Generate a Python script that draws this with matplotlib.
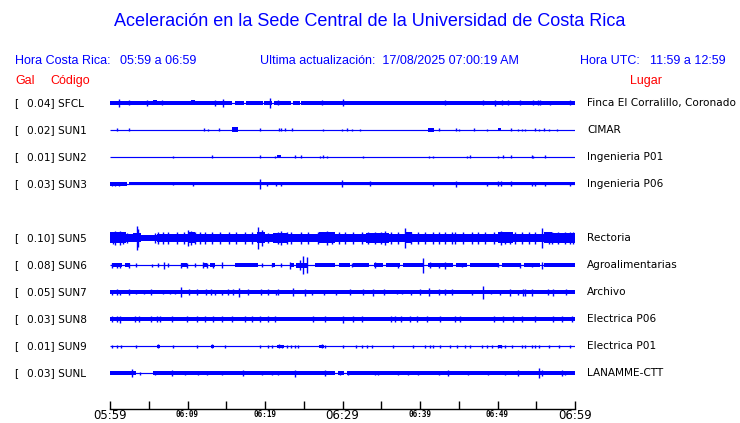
import matplotlib
matplotlib.use("Agg")
import matplotlib.pyplot as plt
from matplotlib.transforms import blended_transform_factory

BLUE = "#0000ff"
RED = "#ff0000"

codes = ["SFCL", "SUN1", "SUN2", "SUN3", "SUN5", "SUN6", "SUN7", "SUN8", "SUN9", "SUNL"]
gal = ["0.04", "0.02", "0.01", "0.03", "0.10", "0.08", "0.05", "0.03", "0.01", "0.03"]
places = ["Finca El Corralillo, Coronado", "CIMAR", "Ingenieria P01", "Ingenieria P06",
          "Rectoria", "Agroalimentarias", "Archivo", "Electrica P06", "Electrica P01",
          "LANAMME-CTT"]
# row slot of every station (slot 4 = SUN4, not shown)
rows = [0, 1, 2, 3, 5, 6, 7, 8, 9, 10]

tick_minutes = list(range(0, 61, 5))
big_labels = {0: "05:59", 30: "06:29", 60: "06:59"}
small_labels = {10: "06:09", 20: "06:19", 40: "06:39", 50: "06:49"}

# envelope of each trace: (start min, end min, half height px)
# spikes: (minute, half height px)
sfcl_spans = [(0, 15.7, 1.7), (16.1, 17.3, 1.7), (17.5, 19.7, 1.7), (19.9, 20.9, 1.7),
              (21.2, 23.4, 1.7), (23.6, 24.5, 1.7), (24.7, 60, 1.7),
              (5.5, 6.0, 2.5), (10.5, 11.0, 2.5)]
sfcl_spikes = [(1.2, 3.7), (2.5, 2.5), (4.8, 3), (6.75, 2.5), (13.5, 3), (14.6, 4),
               (20.7, 5), (21.7, 2.5), (27.3, 2.5), (30.1, 3.5), (43.2, 2.5), (48.1, 2.5),
               (49.7, 3), (50.6, 2.5), (51.3, 2.5), (52.9, 2.5), (54.6, 2.5), (55.2, 2.5),
               (55.5, 2.5), (56.8, 2), (59.3, 2.5)]

sun1_spans = [(15.8, 16.5, 2.5), (41.0, 41.8, 2.0), (50.1, 50.5, 1.5)]
sun1_spikes = [(0.86, 1.5), (2.5, 1.5), (12.1, 1.5), (12.6, 1), (14.1, 1.5), (19.4, 1.5),
               (21.8, 1.5), (22.1, 1.5), (22.6, 1.5), (23.5, 1.5), (27.5, 1), (29.9, 1),
               (30.6, 1.5), (31.2, 1), (32.3, 1), (42.4, 1.5), (44.6, 1.5), (45.0, 1),
               (47.0, 1.5), (48.7, 1), (51.7, 1.5), (52.6, 1), (53.1, 1), (53.6, 1),
               (54.8, 1.5), (55.3, 1), (56.0, 1.5), (56.7, 1), (57.7, 1)]

sun2_spans = [(21.6, 22.1, 1.5)]
sun2_spikes = [(8.1, 1), (13.2, 1.5), (19.4, 1.5), (21.3, 1), (23.9, 1.5), (24.7, 1.5),
               (27.1, 1), (27.5, 1.5), (28.0, 1), (32.7, 1), (41.1, 1), (41.7, 1),
               (46.1, 1), (46.4, 1.5), (50.1, 1), (50.7, 1.5), (51.7, 1.5), (54.4, 1.5),
               (54.6, 1), (56.1, 1.5)]

sun3_spans = [(0, 2.2, 1.8), (2.4, 60, 1.5)]
sun3_spikes = [(0.2, 2), (0.7, 2), (1.2, 2), (8.1, 1.5), (10.75, 2), (19.4, 5), (20.2, 2),
               (21.4, 2), (22.1, 2), (29.9, 3.5), (33.5, 2.5), (41.7, 2), (44.7, 3),
               (48.6, 2), (50.1, 2.5), (50.5, 2.5), (51.7, 2.5), (54.4, 2), (54.8, 2),
               (56.1, 2), (59.3, 2)]

sun5_spans = [(0, 2, 5.5), (2, 3, 3.7), (3, 4, 4.5), (4, 6, 3.2), (6, 10, 4.3), (10, 11, 5.5),
              (11, 13, 4.3), (13, 19, 4.0), (19, 20, 5.5), (20, 21, 3.7), (21, 23, 5),
              (23, 27, 4.3), (27, 29, 5.5), (29, 33, 4.3), (33, 36, 4.7), (36, 38, 4),
              (38, 39, 5.5), (39, 50, 4.3), (50, 52, 5.5), (52, 56, 4.3), (56, 57, 5.5),
              (57, 60, 4.7)]
sun5_spikes = [(0.65, 7), (1.3, 7), (3.5, 12), (3.65, 9), (6.2, 6), (10.1, 8), (10.45, 7),
               (12.3, 6), (19.1, 11), (19.6, 8), (22.1, 7), (28.0, 7), (29.5, 6), (33.3, 6),
               (35.5, 7), (38.0, 10), (42.4, 6), (44.5, 6), (50.5, 7), (51.6, 6), (53.1, 6),
               (55.7, 10), (57.0, 6), (59.8, 6),
               (0.43, 6), (1.72, 6), (2.15, 5), (5.8, 5), (6.9, 6), (7.5, 6), (8.6, 6),
               (9.5, 6), (11.0, 6), (11.6, 6), (13.1, 6), (14.2, 6), (15.3, 6), (16.3, 6),
               (17.4, 6), (18.3, 6), (20.4, 5), (21.7, 6), (22.8, 6), (23.4, 6), (24.7, 6),
               (25.6, 6), (26.9, 6), (28.6, 6), (30.3, 6), (31.4, 6), (32.5, 6), (34.2, 6),
               (35.0, 6), (36.3, 6), (37.2, 6), (38.9, 6), (39.8, 6), (40.6, 6), (41.7, 6),
               (43.2, 6), (44.1, 6), (45.6, 6), (46.7, 6), (47.5, 6), (48.4, 6), (49.5, 6),
               (51.0, 6), (52.2, 6), (54.0, 6), (54.8, 6), (56.6, 6), (57.8, 6), (58.7, 6),
               (59.3, 6)]

sun6_spans = [(0.2, 1.5, 1.7), (1.9, 2.6, 1.7), (9.2, 9.9, 1.7), (12.0, 12.5, 1.7),
              (12.9, 13.5, 1.7), (16.1, 19.1, 1.7), (20.9, 21.3, 1.7), (23.3, 23.8, 1.7),
              (24.0, 25.6, 2.5), (26.4, 29.0, 1.7), (29.6, 31.0, 1.7), (31.4, 33.4, 1.7),
              (34.0, 35.2, 1.7), (35.6, 37.4, 1.7), (37.8, 40.5, 1.7), (41.0, 44.3, 1.7),
              (44.7, 46.0, 1.7), (46.4, 50.2, 1.7), (50.6, 53.0, 1.7), (53.4, 55.5, 1.7),
              (56.0, 60, 1.7)]
sun6_spikes = [(0.2, 2.5), (0.86, 2.5), (1.3, 2.5), (2.4, 2.5), (3.4, 2), (5.4, 1.5),
               (6.2, 2), (7.0, 3.5), (7.5, 2), (9.2, 2.5), (9.9, 2.5), (11.0, 2), (12.0, 3),
               (12.5, 2.5), (13.3, 2.5), (14.4, 3), (19.6, 2), (20.9, 2), (22.1, 2),
               (23.2, 3.5), (24.5, 5), (24.9, 9), (25.4, 8), (31.2, 2), (34.2, 3),
               (37.2, 2.5), (40.4, 7.5), (41.3, 3), (42.4, 2.5), (43.2, 3.5), (45.4, 2),
               (50.1, 2), (52.9, 2.5), (54.4, 2), (55.7, 3.5)]

sun7_spans = [(0, 60, 1.7)]
sun7_spikes = [(0.2, 2.5), (0.86, 3), (1.3, 2.5), (2.45, 3), (3.4, 2), (4.4, 2), (5.3, 3),
               (6.9, 2), (7.7, 2), (8.4, 2), (9.2, 5), (10.2, 3), (11.2, 3), (12.4, 3),
               (13.0, 3), (13.5, 2.5), (14.4, 2.5), (15.2, 3), (15.9, 3), (16.6, 4.5),
               (17.8, 3), (19.5, 3), (20.4, 3), (21.4, 2.5), (21.7, 3), (23.6, 4),
               (25.2, 3.5), (26.0, 2.5), (27.6, 2.5), (29.2, 2.5), (31.0, 3), (32.6, 3),
               (33.9, 3.5), (35.4, 3), (37.0, 2), (37.7, 2), (38.9, 2.5), (40.0, 3),
               (41.1, 4), (42.4, 3), (43.2, 3), (44.1, 3), (46.7, 2.5), (48.1, 6.5),
               (49.2, 2), (50.3, 2.5), (51.6, 3.5), (52.7, 2.5), (53.3, 3.5), (53.6, 3.5),
               (54.4, 3.5), (56.5, 3), (57.2, 3.5), (58.9, 3)]

sun8_spans = [(0, 60, 1.8), (21.0, 25.0, 2.3), (31.2, 33.3, 2.3), (38.0, 39.5, 2.3),
              (41.0, 42.5, 2.3), (45.7, 48.6, 2.3), (53.1, 54.8, 2.3)]
sun8_spikes = [(0.2, 2.7), (0.86, 2.7), (1.3, 3.5), (3.2, 2.7), (3.7, 2.7), (5.3, 2.7),
               (6.0, 2.7), (6.5, 2.7), (8.0, 2.7), (9.9, 2.7), (11.2, 2.7), (12.3, 2.7),
               (13.3, 3), (14.4, 2.7), (15.7, 2.7), (17.4, 2.7), (18.3, 2.7), (19.4, 3),
               (20.4, 2.7), (21.3, 2.7), (26.2, 2.7), (27.7, 3), (30.0, 3.5), (31.4, 2.7),
               (32.5, 2.7), (36.3, 2.7), (36.8, 2.7), (37.6, 2.7), (38.7, 2.7), (39.6, 2.7),
               (40.9, 2.7), (42.6, 2.7), (44.5, 3), (45.2, 2.7), (49.5, 2.7), (50.7, 2.7),
               (52.0, 2.7), (53.1, 2.7), (54.8, 2.7), (57.2, 2.7), (58.3, 2.7), (59.6, 2.7)]

sun9_spans = [(6.0, 6.4, 1.5), (13.0, 13.4, 1.5), (21.6, 22.4, 1.5), (27.0, 27.6, 1.5),
              (50.0, 50.6, 1.5)]
sun9_spikes = [(0.2, 1.5), (0.86, 1.5), (1.4, 1.5), (3.3, 1.5), (6.2, 2), (8.1, 1.5),
               (11.2, 1.5), (13.2, 1.8), (14.8, 1.5), (19.4, 1.5), (20.4, 1.5), (20.9, 1.5),
               (21.8, 1.8), (22.2, 1.5), (22.8, 1.5), (23.4, 1.5), (23.9, 1.5), (24.3, 1.5),
               (27.3, 1.8), (27.7, 1.5), (30.0, 1.5), (31.8, 1.5), (32.5, 1.5), (33.1, 1.5),
               (33.8, 1.5), (36.5, 1.5), (39.1, 1.5), (40.6, 1.5), (41.3, 1.5), (41.7, 1.5),
               (42.6, 1.5), (43.9, 1.5), (44.8, 1.5), (45.8, 1.5), (46.4, 1.5), (48.0, 1.5),
               (48.7, 1.5), (49.3, 1.5), (50.1, 1.5), (50.5, 1.5), (51.0, 1.5), (51.9, 1.5),
               (53.1, 1.5), (53.6, 1.5), (54.4, 1.5), (54.8, 1.5), (55.3, 1.5), (56.6, 1.5),
               (57.9, 1.5), (59.3, 1.5)]

sunl_spans = [(0, 3.4, 2.0), (5.6, 29.0, 1.7), (29.4, 30.2, 1.7), (30.6, 60, 1.7)]
sunl_spikes = [(2.8, 4), (3.9, 1.5), (5.8, 2), (8.0, 2.5), (9.7, 2), (11.4, 2), (12.5, 2),
               (14.4, 2), (17.2, 2.5), (19.6, 2), (20.9, 2), (21.7, 2), (23.9, 3.5),
               (27.7, 2.5), (29.7, 2), (30.7, 2), (34.2, 2), (34.6, 2), (37.2, 2), (38.5, 2),
               (39.8, 2), (42.4, 2), (43.6, 2.5), (46.2, 2), (48.8, 2), (51.0, 2), (52.7, 2.5),
               (55.3, 5), (55.7, 3), (58.3, 2.5), (58.7, 2)]

spans = [sfcl_spans, sun1_spans, sun2_spans, sun3_spans, sun5_spans, sun6_spans,
         sun7_spans, sun8_spans, sun9_spans, sunl_spans]
spikes = [sfcl_spikes, sun1_spikes, sun2_spikes, sun3_spikes, sun5_spikes, sun6_spikes,
          sun7_spikes, sun8_spikes, sun9_spikes, sunl_spikes]

W, H = 740, 423
ROW_PX = 27.0          # pixels between two traces
ROW0_PX = 103.0        # pixel y of the first trace
AX_TOP, AX_BOT = 90.0, 409.0
AX_L, AX_R = 110.0, 575.0

fig = plt.figure(figsize=(W / 100, H / 100), dpi=100)
fig.patch.set_facecolor("white")
ax = fig.add_axes([AX_L / W, 1 - AX_BOT / H, (AX_R - AX_L) / W, (AX_BOT - AX_TOP) / H])
ax.set_xlim(0, 60)
ax.set_ylim((AX_BOT - ROW0_PX) / ROW_PX, (AX_TOP - ROW0_PX) / ROW_PX)
for side in ["top", "left", "right"]:
    ax.spines[side].set_visible(False)
ax.spines["bottom"].set_linewidth(1.0)
ax.set_yticks([])
ax.set_xticks(tick_minutes)
ax.set_xticklabels([])
ax.tick_params(axis="x", direction="in", length=5.8, width=1.0, color="black")

for row, sp, sk in zip(rows, spans, spikes):
    ax.hlines(row, 0, 60, color=BLUE, lw=0.85)
    for s, e, h in sp:
        ax.broken_barh([(s, e - s)], (row - h / ROW_PX, 2 * h / ROW_PX),
                       facecolor=BLUE, edgecolor="none")
    xs = [m for m, h in sk]
    hs = [h / ROW_PX for m, h in sk]
    ax.vlines(xs, [row - h for h in hs], [row + h for h in hs], color=BLUE, lw=1.0)

# time labels under the axis
lab_tr = blended_transform_factory(ax.transData, fig.transFigure)
for m, t in big_labels.items():
    ax.text(m, 1 - 415.5 / H, t, transform=lab_tr, ha="center", va="center",
            fontsize=8.5, family="DejaVu Sans", color="black")
for m, t in small_labels.items():
    ax.text(m, 1 - 414.5 / H, t, transform=lab_tr, ha="center", va="center",
            fontsize=5.5, family="DejaVu Sans Mono", fontweight="bold", color="black")

# station labels
side_tr = blended_transform_factory(fig.transFigure, ax.transData)
for row, g, c, p in zip(rows, gal, codes, places):
    fig.text(14 / W, row, "[", transform=side_tr, va="center", fontsize=7.6,
             family="DejaVu Sans")
    fig.text(27 / W, row, g + "] " + c, transform=side_tr, va="center", fontsize=7.6,
             family="DejaVu Sans")
    fig.text(587 / W, row, p, transform=side_tr, va="center", fontsize=7.6,
             family="DejaVu Sans")

# header texts
fig.text(370 / W, 1 - 22 / H, "Aceleración en la Sede Central de la Universidad de Costa Rica",
         ha="center", va="center", fontsize=13, family="Liberation Sans", color=BLUE)
hy = 1 - 61 / H
fig.text(15 / W, hy, "Hora Costa Rica:", va="center", fontsize=9, family="Liberation Sans", color=BLUE)
fig.text(120 / W, hy, "05:59 a 06:59", va="center", fontsize=9, family="Liberation Sans", color=BLUE)
fig.text(260 / W, hy, "Ultima actualización:  17/08/2025 07:00:19 AM", va="center",
         fontsize=9, family="Liberation Sans", color=BLUE)
fig.text(580 / W, hy, "Hora UTC:", va="center", fontsize=9, family="Liberation Sans", color=BLUE)
fig.text(650 / W, hy, "11:59 a 12:59", va="center", fontsize=9, family="Liberation Sans", color=BLUE)
ry = 1 - 81 / H
fig.text(15 / W, ry, "Gal", va="center", fontsize=9, family="Liberation Sans", color=RED)
fig.text(50 / W, ry, "Código", va="center", fontsize=9, family="Liberation Sans", color=RED)
fig.text(630 / W, ry, "Lugar", va="center", fontsize=9, family="Liberation Sans", color=RED)

fig.savefig("out.png", dpi=100)
